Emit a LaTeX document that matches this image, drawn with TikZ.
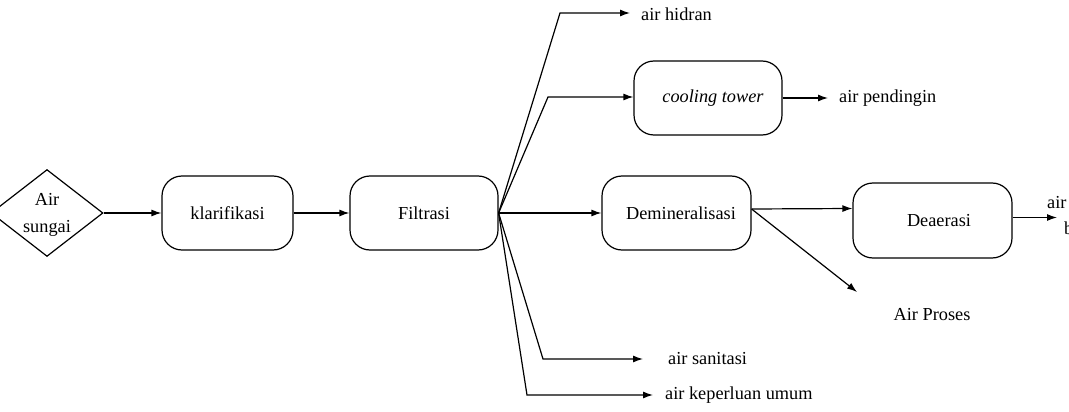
\documentclass[tikz,border=0pt]{standalone}
\usepackage{fontspec}
\setmainfont{Liberation Serif}
\usetikzlibrary{shapes.geometric,arrows.meta}
\tikzset{
  proc/.style={draw, rounded corners=20pt, line width=1.2pt, inner sep=0pt, minimum height=74pt},
  lbl/.style={inner sep=0pt, anchor=west},
  conn/.style={line width=1.2pt, -{Latex[length=10pt,width=7pt]}},
}
\begin{document}
\begin{tikzpicture}[x=1pt,y=-1pt, font=\fontsize{18.3}{28}\selectfont]
\useasboundingbox (0,0) rectangle (1069,412);
\clip (0,0) rectangle (1069,412);
\node[draw, diamond, line width=1.2pt, minimum width=112pt, minimum height=78pt, inner sep=0pt, align=center, text depth=0pt] (air) at (47,213) {Air\\[-1pt]sungai};
\node[proc, minimum width=131pt] (klar) at (227.5,213) {klarifikasi};
\node[proc, minimum width=148pt] (filt) at (424,213) {Filtrasi};
\node[proc, minimum width=149pt] (demin) at (676.5,213) {\hspace*{9pt}Demineralisasi};
\node[proc, minimum width=148pt] (ct) at (708,98) {\hspace*{10pt}\textit{cooling tower}};
\node[proc, minimum width=159pt, minimum height=75pt] (dea) at (932.5,220.5) {\hspace*{13pt}Deaerasi};
\node[lbl] (hidran) at (641,14) {air hidran};
\node[lbl] (pend) at (839,98) {air pendingin};
\node[lbl] (san) at (668,359) {air sanitasi};
\node[lbl] (umum) at (665,395) {air keperluan umum};
\node[inner sep=0pt] (proses) at (932,315) {Air Proses};
\node[lbl] (boil1) at (1047,203) {air};
\node[lbl] (boil2) at (1064,228) {boiler};
\coordinate (prosesend) at (857,292);
\draw[conn] (air.east) -- (klar.west);
\draw[conn] (klar.east) -- (filt.west);
\draw[conn] (filt.east) -- (demin.west);
\draw[conn] (filt.east) -- (560,13) -- ([xshift=-11pt]hidran.west |- 0,13);
\draw[conn] (filt.east) -- (548,97) -- (ct.west |- 0,97);
\draw[conn] (ct.east) -- ([xshift=-11pt]pend.west);
\draw[conn] (filt.east) -- (543,359) -- ([xshift=-25pt]san.west);
\draw[conn] (filt.east) -- (527,395) -- ([xshift=-12pt]umum.west);
\draw[conn] ([yshift=4pt]demin.east) -- ([yshift=12pt]dea.west);
\draw[conn] ([yshift=4pt]demin.east) -- (prosesend);
\draw[conn] ([yshift=3pt]dea.east) -- (1057,217.5);
\end{tikzpicture}
\end{document}
